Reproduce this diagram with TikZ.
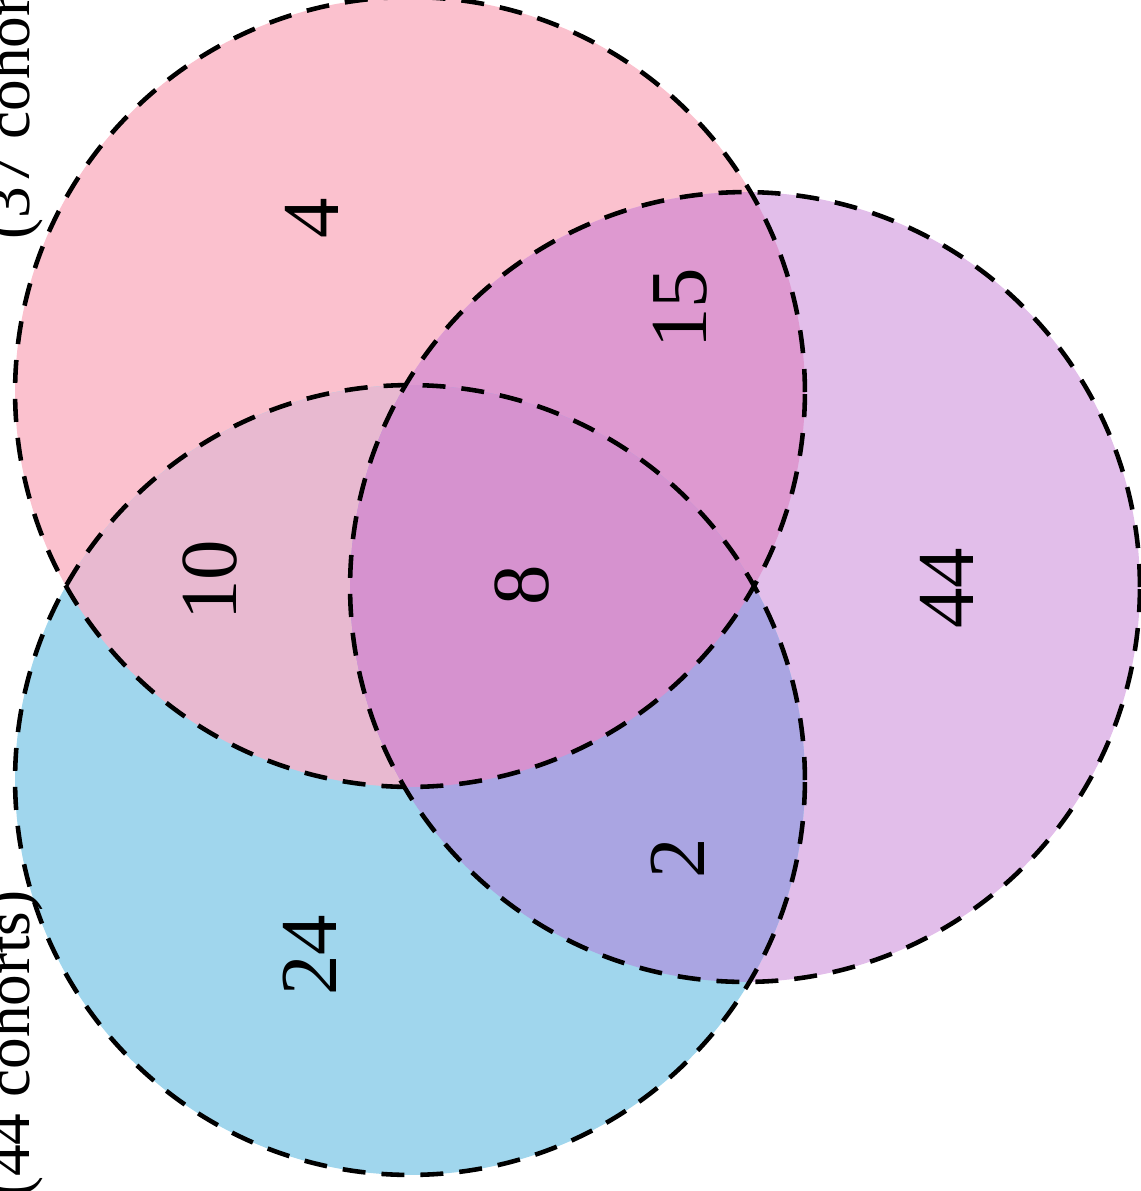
\documentclass[tikz,border=0pt]{standalone}
\usepackage{fontspec}
\setmainfont{Liberation Serif}
\definecolor{setpink}{RGB}{251,193,206}
\definecolor{setviolet}{RGB}{226,190,234}
\definecolor{setblue}{RGB}{160,214,237}
\definecolor{pinkblue}{RGB}{232,185,208}
\definecolor{pinkviolet}{RGB}{222,153,208}
\definecolor{violetblue}{RGB}{170,165,226}
\definecolor{allthree}{RGB}{214,146,207}

\begin{document}
\begin{tikzpicture}[
    x=0.02cm, y=-0.02cm,
    outline/.style={draw=black, line width=2.6pt, dash pattern=on 0.46cm off 0.32cm},
    count/.style={rotate=90, inner sep=0pt, font=\fontsize{46}{50}\selectfont},
    cohort/.style={rotate=90, inner sep=0pt, font=\fontsize{36}{40}\selectfont}
]
    \useasboundingbox (0,0) rectangle (1141,1191);
    \clip (0,0) rectangle (1141,1191);

    % Set centres
    \coordinate (cA) at (410,392);
    \coordinate (cB) at (745,587);
    \coordinate (cC) at (410,780);
    \def\rad{7.9cm}

    % Single sets
    \fill[setpink] (cA) circle (\rad);
    \fill[setviolet] (cB) circle (\rad);
    \fill[setblue] (cC) circle (\rad);

    % Overlaps
    \begin{scope}
        \clip (cA) circle (\rad);
        \fill[pinkblue] (cC) circle (\rad);
        \fill[pinkviolet] (cB) circle (\rad);
    \end{scope}
    \begin{scope}
        \clip (cB) circle (\rad);
        \fill[violetblue] (cC) circle (\rad);
    \end{scope}
    \begin{scope}
        \clip (cA) circle (\rad);
        \clip (cB) circle (\rad);
        \fill[allthree] (cC) circle (\rad);
    \end{scope}

    % Outlines
    \draw[outline] (cA) circle (\rad);
    \draw[outline] (cB) circle (\rad);
    \draw[outline] (cC) circle (\rad);

    % Counts
    \node[count] (onlyA) at (312,218) {4};
    \node[count] (AB) at (680,308) {15};
    \node[count] (AC) at (210,580) {10};
    \node[count] (ABC) at (522,585) {8};
    \node[count] (onlyB) at (947,588) {44};
    \node[count] (BC) at (678,858) {2};
    \node[count] (onlyC) at (310,955) {24};

    % Set sizes
    \node[cohort, anchor=base west] (sizeA) at (30,240) {(37 cohorts)};
    \node[cohort, anchor=base east] (sizeC) at (30,890) {(44 cohorts)};
\end{tikzpicture}
\end{document}
